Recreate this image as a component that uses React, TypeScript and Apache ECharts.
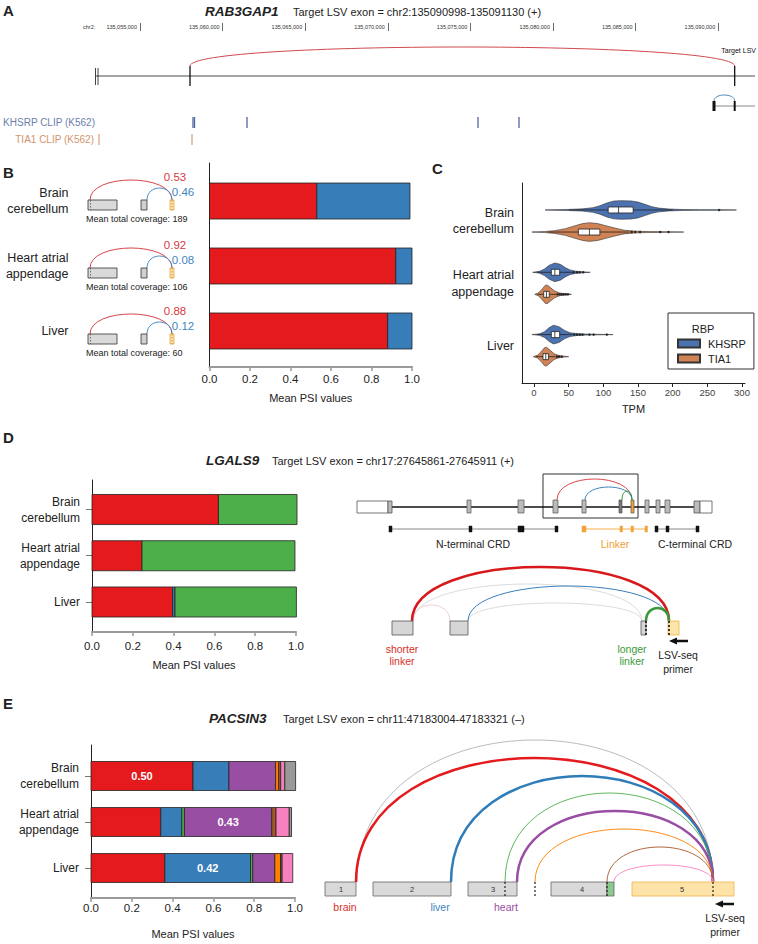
import React, { useEffect, useRef } from "react";
import * as echarts from "echarts";

const FONT = "'Liberation Sans', Arial, Helvetica, sans-serif";

// ---------- Panel A (genome browser) ----------
const aRulerTicks = [135055000, 135060000, 135065000, 135070000, 135075000, 135080000, 135085000, 135090000];
const aGeneSpan = [135052337, 135092228];
const aFirstExonTicks = [135052307, 135052458];
const aExonTicks = [135058027, 135090998];
const aJunction = [135058027, 135090998];
const aTargetModel = [135089746, 135090998];
const aKhsrpClip = [135058208, 135058300, 135061477, 135075460, 135077942];
const aTia1Clip = [135052518, 135058148];

// ---------- Panel B ----------
const tissues = ["Brain\ncerebellum", "Heart atrial\nappendage", "Liver"];
const bInclusion = [0.53, 0.92, 0.88];
const bSkipping = [0.46, 0.08, 0.12];
const bCoverage = [189, 106, 60];

// ---------- Panel C (violins, TPM) ----------
const cTicks = [0, 50, 100, 150, 200, 250, 300];
const cKhsrpViolin = [
  [[16, 0], [30, 0.03], [50, 0.06], [70, 0.12], [85, 0.25], [95, 0.45], [105, 0.75], [115, 0.95], [125, 1], [140, 0.97], [150, 0.85], [160, 0.6], [170, 0.35], [180, 0.2], [195, 0.1], [215, 0.05], [240, 0.03], [265, 0.02], [292, 0]],
  [[-2, 0], [8, 0.1], [15, 0.35], [22, 0.75], [30, 1], [38, 0.85], [45, 0.5], [52, 0.25], [60, 0.12], [70, 0.05], [81, 0]],
  [[-3, 0], [8, 0.08], [15, 0.3], [22, 0.75], [28, 1], [36, 0.85], [44, 0.45], [52, 0.2], [62, 0.1], [75, 0.05], [90, 0.03], [114, 0]],
];
const cTia1Violin = [
  [[-3, 0], [15, 0.05], [30, 0.15], [45, 0.35], [58, 0.65], [70, 0.9], [80, 1], [92, 0.9], [105, 0.65], [118, 0.4], [130, 0.2], [145, 0.1], [165, 0.05], [190, 0.03], [216, 0]],
  [[1, 0], [6, 0.15], [11, 0.5], [16, 0.95], [19, 1], [24, 0.7], [30, 0.35], [37, 0.15], [45, 0.06], [54, 0]],
  [[-1, 0], [5, 0.15], [10, 0.5], [15, 0.95], [18, 1], [23, 0.7], [29, 0.3], [36, 0.12], [43, 0.05], [50, 0]],
];
// [whisker low, q1, median, q3, whisker high]
const cKhsrpBox = [[50, 107, 122, 143, 200], [5, 25, 30, 37, 55], [5, 25, 30, 37, 55]];
const cTia1Box = [[20, 64, 80, 95, 138], [5, 14, 18, 22, 33], [3, 13, 17, 21, 31]];
const cKhsrpOutliers = [[267], [57, 62, 66, 71], [58, 62, 66, 70, 80, 86, 105]];
const cTia1Outliers = [[141, 146, 153, 182, 194], [34, 37, 40, 43, 46, 49], [33, 36, 40]];

// ---------- Panel D ----------
const dShorter = [0.62, 0.245, 0.395];
const dOther = [0, 0, 0.012];
const dLonger = [0.385, 0.75, 0.595];

// ---------- Panel E ----------
const eRed = [0.5, 0.342, 0.362];
const eBlue = [0.176, 0.103, 0.42];
const eGreen = [0, 0.013, 0.011];
const ePurple = [0.229, 0.428, 0.108];
const eOrange = [0.015, 0, 0.028];
const eBrown = [0.01, 0.021, 0.008];
const ePink = [0.02, 0.065, 0.052];
const eGray = [0.053, 0.011, 0];

const RED = "#e41a1c", BLUE = "#377eb8", GREEN = "#4daf4a", PURPLE = "#984ea3", ORANGE = "#ff7f00", BROWN = "#a65628", PINK = "#f781bf", GRAY = "#999999";
const KH = "#4c72b0", TI = "#d08355";

function font(size: number, weight = "normal", style = "normal") {
  return `${style} ${weight} ${size}px ${FONT}`;
}
function T(text: string, x: number, y: number, size = 11, opts: any = {}) {
  return {
    type: "text", x, y, silent: true,
    style: { text, fill: opts.fill || "#222", font: font(size, opts.weight || "normal", opts.style || "normal"), align: opts.align || "left", verticalAlign: "middle" },
  };
}
function L(x1: number, y1: number, x2: number, y2: number, stroke: string, lw = 1, dash?: number[]) {
  return { type: "line", silent: true, shape: { x1, y1, x2, y2 }, style: { stroke, lineWidth: lw, lineDash: dash } };
}
function R(x: number, y: number, w: number, h: number, fill: string, stroke = "#444", lw = 0.8) {
  return { type: "rect", silent: true, shape: { x, y, width: w, height: h }, style: { fill, stroke, lineWidth: lw } };
}
function ARC(x1: number, x2: number, yb: number, h: number, stroke: string, lw = 1) {
  const cy = yb - (4 * h) / 3;
  return { type: "bezierCurve", silent: true, shape: { x1, y1: yb, x2, y2: yb, cpx1: x1, cpy1: cy, cpx2: x2, cpy2: cy }, style: { stroke, lineWidth: lw, fill: "none" } };
}

function stackSeries(prefix: string, axis: number, segs: number[][], colors: string[], barH: number, showLabel: boolean) {
  const out: any[] = [];
  const cum = segs[0].map(() => 0);
  segs.forEach((vals, k) => {
    const data = vals.map((v, i) => {
      const s = cum[i];
      cum[i] += v;
      return [s, s + v, i, v];
    });
    out.push({
      type: "custom", name: prefix + k, xAxisIndex: axis, yAxisIndex: axis, silent: true,
      encode: { x: [0, 1], y: 2 },
      data,
      renderItem: (params: any, api: any) => {
        const v = api.value(3);
        if (!(v > 0)) return null;
        const a = api.coord([api.value(0), api.value(2)]);
        const b = api.coord([api.value(1), api.value(2)]);
        const h = api.size([0, barH])[1];
        const children: any[] = [
          { type: "rect", shape: { x: a[0], y: a[1] - h / 2, width: b[0] - a[0], height: h }, style: { fill: colors[k], stroke: "#222", lineWidth: 0.8 } },
        ];
        if (showLabel && v >= 0.4) {
          children.push({ type: "text", style: { text: v.toFixed(2), x: (a[0] + b[0]) / 2, y: a[1], align: "center", verticalAlign: "middle", fill: "#fff", font: font(11, "bold") } });
        }
        return { type: "group", children };
      },
    });
  });
  return out;
}

const C_HALF = 0.15;
const C_BOX = 0.048;
const C_OFF = 0.177;
function violinSeries(name: string, color: string, profiles: number[][][], boxes: number[][], outliers: number[][], offset: number) {
  return {
    type: "custom", name, xAxisIndex: 2, yAxisIndex: 2, silent: true,
    itemStyle: { color, borderColor: "#333", borderWidth: 0.6 },
    encode: { x: 0, y: 1 },
    data: boxes.map((b, i) => [b[2], i]),
    renderItem: (params: any, api: any) => {
      const i = params.dataIndex;
      const pos = i + offset;
      const prof = profiles[i];
      const top = prof.map(([v, w]) => api.coord([v, pos - w * C_HALF]));
      const bot = prof.slice().reverse().map(([v, w]) => api.coord([v, pos + w * C_HALF]));
      const [wl, q1, md, q3, wh] = boxes[i];
      const pL = api.coord([wl, pos]);
      const pH = api.coord([wh, pos]);
      const b1 = api.coord([q1, pos - C_BOX]);
      const b2 = api.coord([q3, pos + C_BOX]);
      const m1 = api.coord([md, pos - C_BOX]);
      const m2 = api.coord([md, pos + C_BOX]);
      const children: any[] = [
        { type: "polygon", shape: { points: top.concat(bot) }, style: { fill: color, stroke: "#333", lineWidth: 0.6 } },
        { type: "line", shape: { x1: pL[0], y1: pL[1], x2: pH[0], y2: pH[1] }, style: { stroke: "#222", lineWidth: 0.8 } },
        { type: "rect", shape: { x: b1[0], y: Math.min(b1[1], b2[1]), width: b2[0] - b1[0], height: Math.abs(b2[1] - b1[1]) }, style: { fill: "#fff", stroke: "#222", lineWidth: 0.8 } },
        { type: "line", shape: { x1: m1[0], y1: m1[1], x2: m2[0], y2: m2[1] }, style: { stroke: "#222", lineWidth: 0.8 } },
      ];
      outliers[i].forEach((o) => {
        const p = api.coord([o, pos]);
        children.push({ type: "circle", shape: { cx: p[0], cy: p[1], r: 1.2 }, style: { fill: "#222" } });
      });
      return { type: "group", children };
    },
  };
}

function aSeries() {
  const xOf = (api: any, v: number) => api.coord([v, 0])[0];
  return [
    {
      type: "custom", name: "A-gene", xAxisIndex: 0, yAxisIndex: 0, silent: true,
      encode: { x: [0, 1], y: 2 }, data: [[aGeneSpan[0], aGeneSpan[1], 0]],
      renderItem: (p: any, api: any) => ({ type: "line", shape: { x1: xOf(api, api.value(0)), y1: 76, x2: xOf(api, api.value(1)), y2: 76 }, style: { stroke: "#333", lineWidth: 0.9 } }),
    },
    {
      type: "custom", name: "A-first", xAxisIndex: 0, yAxisIndex: 0, silent: true,
      encode: { x: 0, y: 1 }, data: aFirstExonTicks.map((v) => [v, 0]),
      renderItem: (p: any, api: any) => { const x = xOf(api, api.value(0)); return { type: "line", shape: { x1: x, y1: 68, x2: x, y2: 85 }, style: { stroke: "#111", lineWidth: 0.8 } }; },
    },
    {
      type: "custom", name: "A-exon", xAxisIndex: 0, yAxisIndex: 0, silent: true,
      encode: { x: 0, y: 1 }, data: aExonTicks.map((v) => [v, 0]),
      renderItem: (p: any, api: any) => { const x = xOf(api, api.value(0)); return { type: "line", shape: { x1: x, y1: 66, x2: x, y2: 86 }, style: { stroke: "#111", lineWidth: 1.3 } }; },
    },
    {
      type: "custom", name: "A-junction", xAxisIndex: 0, yAxisIndex: 0, silent: true,
      encode: { x: [0, 1], y: 2 }, data: [[aJunction[0], aJunction[1], 0]],
      renderItem: (p: any, api: any) => {
        const a = xOf(api, api.value(0)), b = xOf(api, api.value(1));
        const cy = 66 - (4 * 19) / 3;
        return { type: "bezierCurve", shape: { x1: a, y1: 66, x2: b, y2: 66, cpx1: a, cpy1: cy, cpx2: b, cpy2: cy }, style: { stroke: "#d04a50", lineWidth: 1, fill: "none" } };
      },
    },
    {
      type: "custom", name: "A-target", xAxisIndex: 0, yAxisIndex: 0, silent: true,
      encode: { x: [0, 1], y: 2 }, data: [[aTargetModel[0], aTargetModel[1], 0]],
      renderItem: (p: any, api: any) => {
        const a = xOf(api, api.value(0)), b = xOf(api, api.value(1)), e = xOf(api, aGeneSpan[1]);
        const cy = 101 - (4 * 6) / 3;
        return {
          type: "group",
          children: [
            { type: "line", shape: { x1: a, y1: 106, x2: e, y2: 106 }, style: { stroke: "#888", lineWidth: 1 } },
            { type: "rect", shape: { x: a - 1.5, y: 101, width: 3, height: 10 }, style: { fill: "#111" } },
            { type: "rect", shape: { x: b - 1, y: 101, width: 2, height: 10 }, style: { fill: "#111" } },
            { type: "bezierCurve", shape: { x1: a, y1: 101, x2: b, y2: 101, cpx1: a, cpy1: cy, cpx2: b, cpy2: cy }, style: { stroke: "#4a8ab8", lineWidth: 1, fill: "none" } },
          ],
        };
      },
    },
    {
      type: "custom", name: "A-khsrp", xAxisIndex: 0, yAxisIndex: 0, silent: true,
      encode: { x: 0, y: 1 }, data: aKhsrpClip.map((v) => [v, 0]),
      renderItem: (p: any, api: any) => { const x = xOf(api, api.value(0)); return { type: "line", shape: { x1: x, y1: 117, x2: x, y2: 128 }, style: { stroke: "#50679b", lineWidth: 1.3 } }; },
    },
    {
      type: "custom", name: "A-tia1", xAxisIndex: 0, yAxisIndex: 0, silent: true,
      encode: { x: 0, y: 1 }, data: aTia1Clip.map((v) => [v, 0]),
      renderItem: (p: any, api: any) => { const x = xOf(api, api.value(0)); return { type: "line", shape: { x1: x, y1: 134, x2: x, y2: 145 }, style: { stroke: "#d08a5e", lineWidth: 1 } }; },
    },
  ];
}

function psiXAxis(grid: number, margin: number, nameGap: number) {
  return {
    gridIndex: grid, type: "value", min: 0, max: 1, interval: 0.2,
    axisLine: { show: true, onZero: false, lineStyle: { color: "#9a9a9a", width: 2 } },
    axisTick: { show: true, length: 4, lineStyle: { color: "#9a9a9a", width: 1.5 } },
    axisLabel: { formatter: (v: number) => v.toFixed(1), fontSize: 11.5, color: "#222", margin, fontFamily: FONT },
    splitLine: { show: false },
    name: "Mean PSI values", nameLocation: "middle", nameGap, nameTextStyle: { fontSize: 11, color: "#222", fontFamily: FONT },
  };
}
function tissueYAxis(grid: number, min: number, max: number, margin: number, ticks: boolean, size: number) {
  return {
    gridIndex: grid, type: "value", inverse: true, min, max,
    axisLine: { show: true, onZero: false, lineStyle: { color: "#222", width: 1 } },
    axisTick: ticks ? { show: true, customValues: [0, 1, 2], length: 6, lineStyle: { color: "#777", width: 1 } } : { show: false },
    axisLabel: { customValues: [0, 1, 2], formatter: (v: number) => tissues[Math.round(v)], fontSize: size, lineHeight: size + 4, color: "#222", margin, align: "right", fontFamily: FONT },
    splitLine: { show: false },
  };
}

function buildGraphics() {
  const g: any[] = [];
  // panel letters
  g.push(T("A", 3, 10, 15, { weight: "bold" }), T("B", 3, 172, 15, { weight: "bold" }), T("C", 432, 168, 15, { weight: "bold" }), T("D", 3, 437, 15, { weight: "bold" }), T("E", 3, 703, 15, { weight: "bold" }));
  // titles
  g.push(T("RAB3GAP1", 205, 11, 13.5, { weight: "bold", style: "italic" }), T("Target LSV exon = chr2:135090998-135091130 (+)", 293, 12, 11));
  g.push(T("LGALS9", 206, 460, 13.5, { weight: "bold", style: "italic" }), T("Target LSV exon = chr17:27645861-27645911 (+)", 272, 461, 11));
  g.push(T("PACSIN3", 209, 718, 13.5, { weight: "bold", style: "italic" }), T("Target LSV exon = chr11:47183004-47183321 (–)", 283, 719, 11));
  // A texts
  g.push(T("chr2:", 83, 27, 5.5, { fill: "#333" }), T("Target LSV", 756, 50, 7, { align: "right", fill: "#111" }));
  g.push(T("KHSRP CLIP (K562)", 95, 122, 10, { align: "right", fill: "#6b80ab" }), T("TIA1 CLIP (K562)", 94, 139, 10, { align: "right", fill: "#d4946c" }));

  // B mini diagrams
  const bTops = [200, 268, 334];
  bTops.forEach((y, i) => {
    g.push(ARC(90, 172, y, 20, "#d9464c", 1));
    g.push(ARC(147, 172, y, 12, "#4c8fc4", 1));
    g.push(R(88, y, 29, 10, "#d9d9d9", "#333", 0.8));
    g.push(L(90.5, y, 90.5, y + 10, "#555", 0.8, [1.5, 1.5]));
    g.push(R(141, y, 6, 10, "#d0d0d0", "#333", 0.8));
    g.push(R(170, y, 4, 10, "#fde6b0", "#e9a23b", 0.8));
    g.push(L(172, y, 172, y + 10, "#b07a20", 0.8, [1.5, 1.5]));
    g.push(T(bInclusion[i].toFixed(2), 175, y - 23, 11.5, { align: "center", fill: "#d8383f" }));
    g.push(T(bSkipping[i].toFixed(2), 183, y - 8, 11.5, { align: "center", fill: "#3f86c0" }));
    g.push(T("Mean total coverage: " + bCoverage[i], 86, y + 19, 9));
  });

  // C legend title
  g.push(T("RBP", 703, 329, 11, { align: "center" }));

  // D top gene model
  g.push(R(543, 474, 95, 44, "none", "#333", 1));
  g.push(L(390, 507, 700, 507, "#111", 1.5));
  g.push(R(357, 501, 31, 12, "#fff", "#555", 0.8), R(388, 501, 4, 12, "#bbb", "#555", 0.8));
  const dEx: [number, number, string][] = [[467, 4, "#bbb"], [518, 6, "#bbb"], [553, 5, "#bbb"], [582, 4, "#bbb"], [619, 3, "#777"], [631, 3, "#f2a33a"], [645, 4, "#bbb"], [656, 4, "#bbb"], [665, 5, "#bbb"]];
  dEx.forEach(([x, w, c]) => g.push(R(x, 500, w, 13, c, "#555", 0.7)));
  g.push(R(694, 501, 6, 12, "#bbb", "#555", 0.8), R(700, 501, 12, 12, "#fff", "#555", 0.8));
  g.push(ARC(557, 632, 500, 21, "#d9464c", 1), ARC(585, 632, 500, 13, "#3f86c0", 1), ARC(622, 632, 500, 9, "#3c9a3c", 1));
  // domains
  g.push(L(390, 529, 556, 529, "#888", 1));
  [[389, 3], [469, 3], [518, 6], [555, 3]].forEach(([x, w]) => g.push(R(x, 526, w, 6, "#111", "#111", 0.5)));
  g.push(L(583, 529, 646, 529, "#f5b04a", 1));
  [[582, 4], [620, 2.5], [631, 2.5], [645, 2.5]].forEach(([x, w]) => g.push(R(x, 526, w, 6, "#f2a33a", "#f2a33a", 0.5)));
  g.push(L(656, 529, 698, 529, "#888", 1));
  [[655, 3], [666, 3], [696, 3]].forEach(([x, w]) => g.push(R(x, 526, w, 6, "#111", "#111", 0.5)));
  g.push(T("N-terminal CRD", 473, 544, 10.5, { align: "center" }), T("Linker", 615, 544, 10.5, { align: "center", fill: "#f0a030" }), T("C-terminal CRD", 695, 544, 10.5, { align: "center" }));
  // D lower diagram
  g.push(ARC(413, 450, 621, 16, "#f0d0d0", 1), ARC(413, 642, 621, 37, "#dcdcdc", 1), ARC(468, 642, 621, 18, "#dcdcdc", 1));
  g.push(ARC(412, 669, 621, 54, "#d7191c", 2.5), ARC(468, 669, 621, 35, "#3a7dbb", 1), ARC(646, 669, 621, 13, "#3a9a3a", 2.5));
  g.push(R(392, 621, 21, 14, "#d6d6d6", "#555", 0.8), R(450, 621, 18, 14, "#d6d6d6", "#555", 0.8), R(641, 621, 5, 14, "#d6d6d6", "#555", 0.8), R(668, 621, 11, 14, "#fde4a8", "#f0b44c", 0.8));
  g.push(L(646, 621, 646, 635, "#111", 1.6, [2, 2]), L(669, 621, 669, 635, "#111", 1.6, [2, 2]));
  g.push(L(676, 641, 688, 641, "#111", 2.5), { type: "polygon", silent: true, shape: { points: [[669, 641], [677, 637.5], [677, 644.5]] }, style: { fill: "#111" } });
  g.push(T("shorter", 402, 649, 10.5, { align: "center", fill: "#d7302a" }), T("linker", 402, 661, 10.5, { align: "center", fill: "#d7302a" }));
  g.push(T("longer", 632, 649, 10.5, { align: "center", fill: "#3a9a3a" }), T("linker", 632, 661, 10.5, { align: "center", fill: "#3a9a3a" }));
  g.push(T("LSV-seq", 678, 655, 10.5, { align: "center" }), T("primer", 678, 669, 10.5, { align: "center" }));

  // E diagram
  const eEnd = 713, eBase = 882;
  g.push(ARC(357, eEnd, eBase, 142, "#aaa", 0.8));
  g.push(ARC(356, eEnd, eBase, 124, RED, 2.5));
  g.push(ARC(451, eEnd, eBase, 106, "#2f7db8", 2.5));
  g.push(ARC(505, eEnd, eBase, 89, GREEN, 0.9));
  g.push(ARC(517, eEnd, eBase, 71, PURPLE, 2.5));
  g.push(ARC(535, eEnd, eBase, 53, ORANGE, 0.9));
  g.push(ARC(607, eEnd, eBase, 35, BROWN, 0.9));
  g.push(ARC(614, eEnd, eBase, 17, PINK, 0.9));
  g.push(R(325, 882, 31, 14, "#d9d9d9", "#666", 0.8), R(373, 882, 78, 14, "#d9d9d9", "#666", 0.8), R(468, 882, 49, 14, "#d9d9d9", "#666", 0.8));
  g.push(R(551, 882, 56, 14, "#d9d9d9", "#666", 0.8), R(607, 882, 7, 14, "#8cc98c", "#666", 0.8), R(632, 882, 102, 14, "#fde3a7", "#f0b44c", 0.8));
  g.push(L(505, 882, 505, 896, "#222", 1.2, [2, 2]), L(535, 882, 535, 896, "#222", 1.2, [2, 2]), L(607, 882, 607, 896, "#222", 1.2, [2, 2]), L(713, 882, 713, 896, "#222", 1.2, [2, 2]));
  g.push(T("1", 341, 889, 7.5, { align: "center", fill: "#333" }), T("2", 412, 889, 7.5, { align: "center", fill: "#333" }), T("3", 493, 889, 7.5, { align: "center", fill: "#333" }), T("4", 582, 889, 7.5, { align: "center", fill: "#333" }), T("5", 682, 889, 7.5, { align: "center", fill: "#333" }));
  g.push(T("brain", 345, 907, 10.5, { align: "center", fill: "#d7302a" }), T("liver", 440, 907, 10.5, { align: "center", fill: "#3f86c0" }), T("heart", 506, 907, 10.5, { align: "center", fill: "#984ea3" }));
  g.push(L(722, 904, 734, 904, "#111", 2.5), { type: "polygon", silent: true, shape: { points: [[715, 904], [723, 900.5], [723, 907.5]] }, style: { fill: "#111" } });
  g.push(T("LSV-seq", 725, 918, 10.5, { align: "center" }), T("primer", 725, 932, 10.5, { align: "center" }));
  return g;
}

function buildOption() {
  const groupThousands = (v: number) => String(Math.round(v)).replace(/\B(?=(\d{3})+(?!\d))/g, ",");
  return {
    animation: false,
    backgroundColor: "#ffffff",
    textStyle: { fontFamily: FONT },
    grid: [
      { left: 57.4, top: 31, width: 702.1, height: 120, outerBoundsMode: "none" },
      { left: 209.5, top: 163, width: 202.5, height: 204, outerBoundsMode: "none" },
      { left: 522, top: 183, width: 223, height: 200, outerBoundsMode: "none" },
      { left: 92, top: 480, width: 204, height: 152, outerBoundsMode: "none" },
      { left: 91, top: 745, width: 204, height: 153, outerBoundsMode: "none" },
    ],
    xAxis: [
      {
        gridIndex: 0, type: "value", position: "top", min: 135050000, max: 135092500,
        axisLine: { show: false, onZero: false },
        axisTick: { show: true, customValues: aRulerTicks, length: 8, lineStyle: { color: "#444", width: 0.8 } },
        axisLabel: { customValues: aRulerTicks, formatter: groupThousands, fontSize: 5.5, color: "#333", align: "right", verticalAlign: "middle", margin: 4, padding: [0, 3, 0, 0], fontFamily: FONT },
        splitLine: { show: false },
      },
      psiXAxis(1, 6, 25),
      {
        gridIndex: 2, type: "value", min: -17.31, max: 304.33,
        axisLine: { show: true, onZero: false, lineStyle: { color: "#222", width: 1 } },
        axisTick: { show: true, customValues: cTicks, length: 4, lineStyle: { color: "#222", width: 1 } },
        axisLabel: { customValues: cTicks, fontSize: 9.5, color: "#444", margin: 4, fontFamily: FONT },
        splitLine: { show: false },
        name: "TPM", nameLocation: "middle", nameGap: 20, nameTextStyle: { fontSize: 11, color: "#222", fontFamily: FONT },
      },
      psiXAxis(3, 8, 27),
      psiXAxis(4, 4, 30),
    ],
    yAxis: [
      { gridIndex: 0, type: "value", min: 0, max: 1, show: false },
      tissueYAxis(1, -0.585, 2.554, 141, false, 12.5),
      tissueYAxis(2, -0.61, 2.6, 8, false, 12.5),
      tissueYAxis(3, -0.638, 2.649, 12, true, 12),
      tissueYAxis(4, -0.674, 2.652, 12, true, 12),
    ],
    legend: {
      show: true, data: ["KHSRP", "TIA1"], orient: "vertical", left: 668, top: 313,
      padding: [25, 8, 5, 9], itemGap: 4, itemWidth: 22, itemHeight: 8, icon: "rect",
      borderColor: "#333", borderWidth: 1, selectedMode: false,
      textStyle: { fontSize: 11, color: "#222", fontFamily: FONT, padding: [0, 0, 0, 3] },
    },
    series: [
      ...aSeries(),
      ...stackSeries("B", 1, [bInclusion, bSkipping], [RED, BLUE], 0.554, false),
      violinSeries("KHSRP", KH, cKhsrpViolin, cKhsrpBox, cKhsrpOutliers, -C_OFF),
      violinSeries("TIA1", TI, cTia1Violin, cTia1Box, cTia1Outliers, C_OFF),
      ...stackSeries("D", 3, [dShorter, dOther, dLonger], [RED, BLUE, GREEN], 0.65, false),
      ...stackSeries("E", 4, [eRed, eBlue, eGreen, ePurple, eOrange, eBrown, ePink, eGray], [RED, BLUE, GREEN, PURPLE, ORANGE, BROWN, PINK, GRAY], 0.63, true),
    ],
    graphic: { elements: buildGraphics() },
  };
}

export default function App() {
  const ref = useRef<HTMLDivElement>(null);
  useEffect(() => {
    if (!ref.current) return;
    const chart = echarts.init(ref.current, null, { renderer: "svg", width: 758, height: 944 });
    chart.setOption(buildOption() as any);
    return () => chart.dispose();
  }, []);
  return <div ref={ref} style={{ position: "absolute", left: 0, top: 0, width: 758, height: 944, background: "#fff" }} />;
}
